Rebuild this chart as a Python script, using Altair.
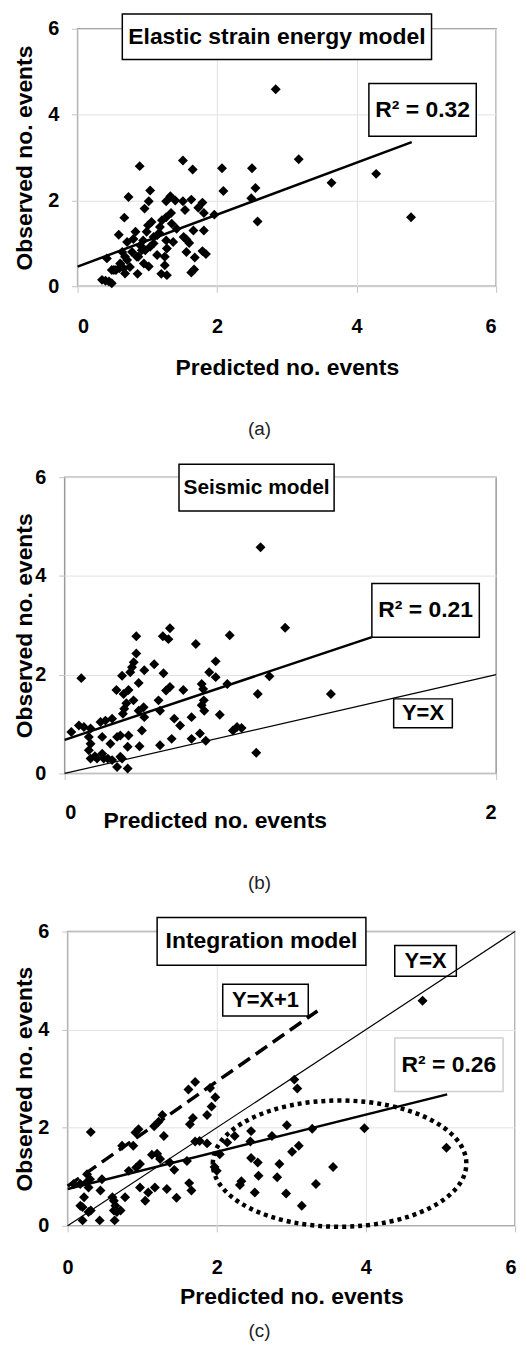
import altair as alt
import pandas as pd

FONT = "Liberation Sans"

# ---------------- values ----------------
# (a) Elastic strain energy model
A_PRED = [2.84, 3.17, 3.64, 4.28, 4.78, 2.50, 2.55, 2.49, 2.58, 2.07, 2.09, 1.96, 1.51, 1.65, 0.89,
          0.73, 1.04, 1.02, 0.96, 0.67, 0.59, 1.33, 1.27, 1.40, 1.51, 1.63, 1.79, 1.54, 1.73, 1.81,
          1.34, 1.27, 1.18, 1.06, 1.01, 0.99, 0.83, 0.71, 0.94, 0.78, 0.68, 0.42, 0.61, 0.49, 0.55,
          0.35, 0.45, 0.49, 0.40, 0.68, 0.86, 0.60, 0.87, 0.97, 1.04, 0.95, 1.02, 1.09, 1.20, 1.28,
          1.25, 1.25, 1.28, 1.27, 1.37, 1.42, 1.52, 1.56, 1.60, 1.66, 1.81, 1.56, 1.68, 1.79, 1.84,
          1.67, 1.63, 1.14, 1.14, 1.21, 0.92, 0.85, 0.64, 0.66, 0.52, 0.71, 1.09, 1.17, 1.35, 0.80,
          0.90, 0.75]
A_OBS = [4.59, 2.96, 2.41, 2.62, 1.61, 2.75, 2.29, 2.05, 1.51, 2.75, 2.22, 1.67, 2.93, 2.72, 2.80,
         2.08, 2.23, 1.98, 1.81, 1.60, 1.20, 2.10, 1.98, 2.00, 1.98, 2.02, 1.95, 1.78, 1.83, 1.71,
         1.71, 1.61, 1.38, 1.50, 1.42, 1.27, 1.27, 1.03, 1.07, 0.80, 0.69, 0.65, 0.53, 0.38, 0.38,
         0.15, 0.11, 0.07, 0.13, 0.30, 0.29, 0.42, 0.69, 0.84, 0.92, 0.53, 0.46, 1.00, 0.29, 0.26,
         0.49, 0.69, 0.88, 1.07, 1.03, 1.34, 1.15, 1.09, 1.01, 1.30, 1.30, 0.80, 0.67, 0.82, 0.75,
         0.39, 0.32, 0.73, 1.19, 1.54, 0.84, 0.69, 0.80, 0.42, 0.38, 0.61, 1.15, 1.24, 1.46, 1.10,
         0.95, 0.45]

# (b) Seismic model
B_PRED = [0.908, 1.022, 0.949, 0.895, 1.234, 0.888, 0.765, 0.608, 0.700, 0.754, 0.719, 0.780, 0.799,
          0.820, 0.077, 0.332, 0.455, 0.488, 0.481, 0.332, 0.320, 0.312, 0.304, 0.266, 0.369, 0.415,
          0.458, 0.343, 0.240, 0.273, 0.296, 0.319, 0.286, 0.276, 0.270, 0.343, 0.366, 0.369, 0.358,
          0.435, 0.442, 0.470, 0.488, 0.550, 0.508, 0.535, 0.588, 0.635, 0.642, 0.645, 0.635, 0.647,
          0.670, 0.700, 0.627, 0.588, 0.654, 0.496, 0.442, 0.347, 0.031, 0.066, 0.089, 0.120, 0.112,
          0.120, 0.112, 0.120, 0.150, 0.181, 0.174, 0.166, 0.189, 0.220, 0.212, 0.243, 0.258, 0.296,
          0.292, 0.174, 0.220, 0.266, 0.243, 0.292, 0.258, 0.140, 0.200]
B_OBS = [4.58, 2.95, 1.97, 1.61, 1.61, 0.42, 2.80, 2.62, 2.27, 1.81, 1.19, 0.87, 0.94,
         0.92, 1.93, 2.78, 2.78, 2.94, 2.72, 2.43, 2.25, 2.15, 2.05, 1.98, 2.09, 2.21,
         2.03, 1.83, 1.69, 1.61, 1.69, 1.48, 1.42, 1.31, 1.21, 1.27, 1.34, 1.14, 0.87,
         1.48, 1.27, 1.68, 1.75, 1.69, 1.11, 0.97, 1.14, 1.81, 1.71, 1.48, 1.38, 1.27,
         2.05, 1.95, 0.81, 0.70, 0.66, 0.70, 0.57, 0.55, 0.84, 0.97, 0.94, 0.91, 0.74,
         0.60, 0.47, 0.30, 0.30, 0.30, 0.74, 1.04, 1.07, 1.11, 0.60, 0.74, 0.77, 0.77,
         0.54, 0.40, 0.27, 0.30, 0.13, 0.10, 0.34, 0.35, 0.30]

# (c) Integration model
C_PRED = [4.76, 3.04, 3.08, 3.98, 5.08, 3.56, 3.33, 3.14, 2.93, 2.81, 2.84, 3.01, 3.10, 2.94, 3.28,
          2.74, 2.46, 2.45, 2.24, 2.14, 2.46, 2.55, 2.56, 2.33, 2.31, 2.51, 2.04, 2.00, 1.97, 1.98,
          1.91, 1.93, 1.87, 1.71, 1.62, 1.64, 1.68, 1.71, 1.77, 1.87, 1.60, 1.63, 1.66, 1.46, 1.33,
          1.43, 1.37, 1.24, 1.29, 1.27, 1.22, 1.16, 1.13, 1.20, 1.17, 1.08, 1.04, 0.97, 0.95, 0.91,
          0.88, 0.73, 0.97, 0.92, 0.82, 0.77, 0.62, 0.71, 0.62, 0.63, 0.66, 0.46, 0.44, 0.43, 0.31,
          0.31, 0.20, 0.20, 0.22, 0.28, 0.26, 0.17, 0.08, 0.30, 0.25, 0.17, 0.28, 0.64, 0.60]
C_OBS = [4.59, 2.98, 2.80, 1.99, 1.59, 1.20, 0.85, 0.41, 0.66, 0.99, 1.26, 1.51, 1.63, 2.05, 1.98,
         1.83, 1.93, 1.72, 1.83, 1.70, 1.38, 1.29, 1.02, 0.91, 0.83, 0.68, 1.46, 1.12, 1.20, 2.62,
         2.81, 2.43, 2.26, 2.93, 2.78, 2.07, 2.20, 1.72, 1.73, 1.68, 1.32, 0.87, 0.72, 0.57, 0.75,
         1.14, 1.29, 1.36, 1.83, 2.26, 2.12, 2.03, 1.45, 1.47, 0.78, 0.68, 0.51, 0.78, 1.97, 1.90,
         1.63, 1.63, 1.26, 1.19, 1.12, 0.58, 0.51, 0.31, 0.31, 0.11, 0.28, 0.95, 0.72, 0.11, 1.91,
         0.31, 0.38, 0.11, 0.58, 0.78, 1.05, 0.85, 0.85, 0.95, 0.88, 0.41, 0.28, 0.41, 0.58]

# lines drawn in the figure (end points, data units)
A_FIT_X, A_FIT_Y = [0.0, 4.79], [0.46, 3.36]
B_FIT_X, B_FIT_Y = [0.0, 1.424], [0.68, 2.76]
B_ID_X, B_ID_Y = [0.0, 2.0], [0.0, 2.0]
C_FIT_X, C_FIT_Y = [0.0, 5.09], [0.75, 2.68]
C_ID_X, C_ID_Y = [0.0, 6.0], [0.0, 6.0]
C_P1_X, C_P1_Y = [0.0, 3.35], [0.81, 4.38]

# annotation boxes: (x1, x2, y1, y2, label, fontsize, border)
A_BOXES = [(0.641, 5.074, 6.347, 5.282, "Elastic strain energy model", 23, "black"),
           (4.176, 5.715, 4.726, 3.498, "R² = 0.32", 23, "black")]
B_BOXES = [(0.530, 1.249, 6.262, 5.315, "Seismic model", 21, "black"),
           (1.424, 1.922, 3.846, 2.758, "R² = 0.21", 23, "black"),
           (1.525, 1.797, 1.510, 0.926, "Y=X", 22, "black")]
C_BOXES = [(1.20, 4.00, 6.284, 5.311, "Integration model", 23, "black"),
           (4.387, 5.213, 5.716, 5.088, "Y=X", 22, "black"),
           (2.08, 3.227, 4.926, 4.277, "Y=X+1", 22, "black"),
           (4.387, 5.84, 3.831, 2.737, "R² = 0.26", 23, "#d0d0d0")]
C_ELLIPSE = (3.647, 1.267)

ELLIPSE_PATH = "M-1,0A1,0.498,0,1,1,1,0A1,0.498,0,1,1,-1,0Z"


def make_panel(pred, obs, xdom, xticks, xgrid, width, height, xlab_pad, x_title_x, x_title_y,
               y_title_x, boxes, lines, caption, cap_x, cap_y, ellipse=None, flush_last=None):
    xs = alt.Scale(domain=xdom, nice=False, zero=False)
    ys = alt.Scale(domain=[0, 6], nice=False, zero=False)
    xaxis_kw = dict(values=xticks, grid=xgrid, gridColor="#e2e2e2", gridWidth=1, domain=False,
                    tickSize=6, tickColor="#c4c4c4", labelFont=FONT, labelFontSize=20,
                    labelFontWeight="bold", labelColor="black", labelPadding=xlab_pad,
                    labelBaseline="alphabetic", title="Predicted no. events", titleFont=FONT,
                    titleFontSize=23, titleFontWeight="bold", titleColor="black",
                    titleBaseline="alphabetic", titleY=x_title_y)
    if x_title_x is not None:
        xaxis_kw["titleX"] = x_title_x
    if flush_last is not None:
        test = "datum.value == %s" % flush_last
        xaxis_kw["labelAlign"] = {"condition": {"test": test, "value": "right"}, "value": "center"}
        xaxis_kw["labelOffset"] = {"condition": {"test": test, "value": 1}, "value": 0}
    xaxis = alt.Axis(**xaxis_kw)
    yaxis = alt.Axis(values=[0, 2, 4, 6], grid=True, gridColor="#e2e2e2", gridWidth=1, domain=False,
                     tickSize=6, tickColor="#c4c4c4", labelFont=FONT, labelFontSize=20,
                     labelFontWeight="bold", labelColor="black", labelPadding=13,
                     title="Observed no. events", titleFont=FONT, titleFontSize=23,
                     titleFontWeight="bold", titleColor="black", titleBaseline="alphabetic",
                     titleX=y_title_x)

    def X(field):
        return alt.X(field, scale=xs, axis=xaxis)

    def Y(field):
        return alt.Y(field, scale=ys, axis=yaxis)

    pts = pd.DataFrame({"pred": pred, "obs": obs})
    layers = []
    bdf = pd.DataFrame([dict(x1=b[0], x2=b[1], y1=b[2], y2=b[3], label=b[4], fs=b[5], stroke=b[6],
                             cx=(b[0] + b[1]) / 2, cy=(b[2] + b[3]) / 2) for b in boxes])
    layers.append(alt.Chart(pts).mark_point(shape="diamond", filled=True, color="black", opacity=1,
                                            size=100).encode(x=X("pred:Q"), y=Y("obs:Q")))
    if ellipse is not None:
        edf = pd.DataFrame({"cx": [ellipse[0]], "cy": [ellipse[1]]})
        layers.append(alt.Chart(edf).mark_point(shape=ELLIPSE_PATH, size=255 * 255, filled=False,
                                                color="black", strokeWidth=4.5, strokeDash=[4, 4],
                                                opacity=1).encode(x=X("cx:Q"), y=Y("cy:Q")))
    for _, b in bdf.iterrows():
        one = pd.DataFrame([b])
        layers.append(alt.Chart(one).mark_rect(fill="white", stroke=b["stroke"], strokeWidth=1.5).encode(
            x=X("x1:Q"), x2="x2:Q", y=Y("y1:Q"), y2="y2:Q"))
    for lx, ly, w, dash in lines:
        ldf = pd.DataFrame({"x": lx, "y": ly})
        kw = dict(color="black", strokeWidth=w, strokeCap="butt")
        if dash:
            kw["strokeDash"] = dash
        layers.append(alt.Chart(ldf).mark_line(**kw).encode(x=X("x:Q"), y=Y("y:Q")))
    for _, b in bdf.iterrows():
        one = pd.DataFrame([b])
        layers.append(alt.Chart(one).mark_text(font=FONT, fontSize=int(b["fs"]), fontWeight="bold",
                                               color="black", align="center", baseline="middle").encode(
            x=X("cx:Q"), y=Y("cy:Q"), text="label:N"))
    cdf = pd.DataFrame({"t": [caption]})
    layers.append(alt.Chart(cdf).mark_text(font=FONT, fontSize=19, color="#222222", align="center",
                                           baseline="middle").encode(
        x=alt.value(cap_x), y=alt.value(cap_y), text="t:N"))
    return alt.layer(*layers).properties(width=width, height=height)


def spacer():
    # an empty 1-px view, used only to align the panels' left edges
    return alt.Chart(pd.DataFrame({"v": [0]})).mark_point(size=1, opacity=0).encode(
        x=alt.value(0.5), y=alt.value(0.5)
    ).properties(width=1, height=1, view=alt.ViewBackground(strokeOpacity=0))


pa = make_panel(A_PRED, A_OBS, [0, 6], [0, 2, 4, 6], True, 421, 259, 40, None, 89, -46, A_BOXES,
                [(A_FIT_X, A_FIT_Y, 2.5, None)], "(a)", 183, 403)
pb = make_panel(B_PRED, B_OBS, [0, 2], [0, 2], False, 434, 298, 39, 151, 54, -33, B_BOXES,
                [(B_FIT_X, B_FIT_Y, 2.5, None), (B_ID_X, B_ID_Y, 1.2, None)], "(b)", 196, 408)
pc = make_panel(C_PRED, C_OBS, [0, 6], [0, 2, 4, 6], True, 450, 296, 42, None, 78, -36, C_BOXES,
                [(C_FIT_X, C_FIT_Y, 2.5, None), (C_ID_X, C_ID_Y, 1.2, None),
                 (C_P1_X, C_P1_Y, 3.5, [14, 7])], "(c)", 193, 402, ellipse=C_ELLIPSE,
                flush_last=6)

rows = [alt.hconcat(spacer(), p, spacing=0) for p in (pa, pb, pc)]
chart = alt.vconcat(*rows, spacing=22).properties(
    padding={"left": 4, "top": 0, "right": 0, "bottom": 0}
).configure_view(stroke="#9a9a9a", strokeWidth=1.5)

chart.save("out.html", embed_options={"renderer": "svg", "actions": False})
